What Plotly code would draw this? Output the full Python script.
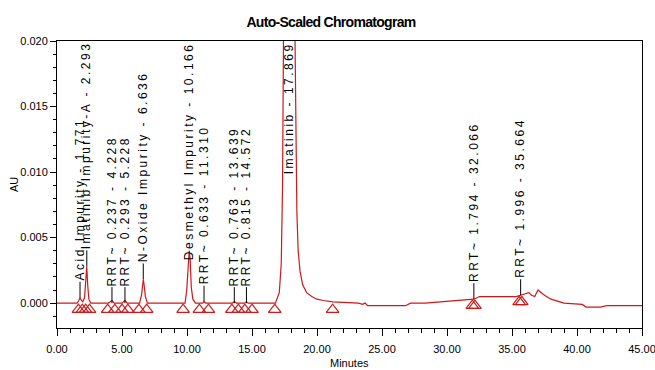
import plotly.graph_objects as go

# ---------------- data ----------------
# chromatogram trace (minutes, AU)
time_min = [0.0, 1.55, 1.68, 1.77, 1.88, 1.98, 2.12, 2.22, 2.29, 2.36, 2.45, 2.6,
            3.95, 4.1, 4.23, 4.4, 5.0, 5.12, 5.23, 5.4,
            6.35, 6.5, 6.58, 6.64, 6.7, 6.8, 6.95,
            9.85, 9.98, 10.08, 10.17, 10.25, 10.33, 10.45, 10.65,
            11.2, 11.31, 11.45, 13.5, 13.64, 13.8, 14.45, 14.57, 14.7,
            16.8, 17.1, 17.25, 17.35, 17.42, 17.87, 18.3, 18.38, 18.45, 18.55,
            18.7, 18.9, 19.2, 19.6, 20.0, 20.5, 21.2,
            23.2, 23.5, 23.7, 23.9, 26.8, 27.2, 28.3, 29.8, 31.3, 32.07,
            32.5, 35.3, 35.66, 36.0, 36.3, 36.5, 36.75, 37.0, 37.5, 38.0, 38.6,
            39.0, 40.4, 40.7, 41.8, 42.3, 45.0]
au = [0.0, 0.0, 0.0002, 0.0004, 0.0002, 0.0001, 0.0004, 0.0015, 0.0028, 0.0014, 0.0003, 0.0,
      0.0, 0.0001, 0.0002, 0.0, 0.0, 0.0001, 0.0002, 0.0,
      0.0, 0.0006, 0.0013, 0.0018, 0.0014, 0.0005, 0.0,
      0.0, 0.0010, 0.0030, 0.0040, 0.0032, 0.0012, 0.0003, 0.0,
      0.0, 0.0001, 0.0, 0.0, 0.0001, 0.0, 0.0, 0.0001, 0.0,
      0.0, 0.0008, 0.0030, 0.0090, 0.0210, 0.0900, 0.0210, 0.0110, 0.0070, 0.0040,
      0.0024, 0.0014, 0.0008, 0.0005, 0.0003, 0.0002, 0.0001,
      0.0, -0.0001, 0.0, -0.0002, -0.0002, 0.0, 0.0, 0.0001, 0.0002, 0.0003,
      0.0005, 0.0005, 0.0006, 0.0007, 0.0008, 0.0006, 0.0005, 0.0010, 0.0006, 0.0003, 0.0001,
      0.0, -0.0001, -0.0003, -0.0003, -0.0002, -0.0002]

# peak start / end markers
tri_time = [1.65, 1.95, 2.2, 2.5, 3.9, 4.45, 5.0, 5.45, 6.3, 6.9, 9.7, 10.95, 11.65,
            13.45, 13.95, 14.45, 15.0, 16.75, 21.2, 31.95, 32.15, 35.55, 35.75]
tri_au = [-0.0005, -0.0005, -0.0005, -0.0005, -0.0005, -0.0005, -0.0005, -0.0005,
          -0.0005, -0.0005, -0.0005, -0.0005, -0.0005, -0.0005, -0.0005, -0.0005,
          -0.0005, -0.0005, -0.0005, -0.0002, -0.0002, 0.0001, 0.0001]

# labelled peaks
peak_name = ["Acid Impurity", "Imatinib Impurity-A", "RRT~ 0.237", "RRT~ 0.293",
             "N-Oxide Impurity", "Desmethyl Impurity", "RRT~ 0.633", "RRT~ 0.763",
             "RRT~ 0.815", "Imatinib", "RRT~ 1.794", "RRT~ 1.996"]
peak_rt = [1.771, 2.293, 4.228, 5.228, 6.636, 10.166, 11.310, 13.639, 14.572,
           17.869, 32.066, 35.664]
peak_apex = [0.0004, 0.0028, 0.0, 0.0, 0.0018, 0.0040, 0.0001, 0.0, 0.0,
             0.0900, 0.0003, 0.0006]

# ---------------- layout ----------------
W, H = 655, 370
ML, MR, MT, MB = 57, 13, 41, 42
XR = [0, 45]
YR = [-0.0019, 0.020]
RED = "#d01818"
FONT = "Liberation Sans, Arial, sans-serif"

plot_w = W - ML - MR
plot_h = H - MT - MB
px_per_unit = plot_h / (YR[1] - YR[0])
gap_px = 16
gap = gap_px / px_per_unit
char_px = 7.6

fig = go.Figure()

fig.add_trace(go.Scatter(
    x=time_min, y=au, mode="lines",
    line=dict(color=RED, width=1.2), hoverinfo="skip", showlegend=False))

fig.add_trace(go.Scatter(
    x=tri_time, y=tri_au, mode="markers",
    marker=dict(symbol="triangle-up-open", size=11, color=RED, line=dict(width=1.2, color=RED)),
    hoverinfo="skip", showlegend=False))

lead_x, lead_y = [], []
for name, rt, apex in zip(peak_name, peak_rt, peak_apex):
    text = f"{name} - {rt:.3f}"
    apex_px = (YR[1] - apex) * px_per_unit
    est_len = len(text) * char_px
    pinned = apex_px - gap_px - est_len < 2
    span = f'<span style="letter-spacing:2.5px">{text}</span>'
    if pinned:
        fig.add_annotation(x=rt, y=YR[1], xref="x", yref="y", text=span,
                           textangle=-90, showarrow=False, xanchor="center",
                           yanchor="top", yshift=0, borderpad=0,
                           font=dict(family=FONT, size=12, color="black"))
    else:
        fig.add_annotation(x=rt, y=apex, xref="x", yref="y", text=span,
                           textangle=-90, showarrow=False, xanchor="center",
                           yanchor="bottom", yshift=gap_px, borderpad=0,
                           font=dict(family=FONT, size=12, color="black"))
        lead_x += [rt, rt, None]
        lead_y += [apex, apex + gap, None]

fig.add_trace(go.Scatter(
    x=lead_x, y=lead_y, mode="lines", line=dict(color="black", width=1),
    hoverinfo="skip", showlegend=False))

fig.update_layout(
    width=W, height=H,
    margin=dict(l=ML, r=MR, t=MT, b=MB, autoexpand=False),
    paper_bgcolor="white", plot_bgcolor="white",
    title=dict(text='<b><span style="letter-spacing:-0.7px">Auto-Scaled Chromatogram</span></b>',
               x=331 / W, xanchor="center", xref="container",
               y=1 - 22 / H, yanchor="middle", yref="container",
               font=dict(family=FONT, size=14, color="black")),
    xaxis=dict(range=XR, tick0=0, dtick=5, tickformat=".2f", ticks="outside",
               ticklen=7, tickcolor="black", showline=True, linecolor="black",
               linewidth=1, mirror=True, showgrid=False, zeroline=False,
               ticklabeloverflow="allow", ticklabelstandoff=4,
               minor=dict(dtick=1, ticks="outside", ticklen=4, tickcolor="black"),
               tickfont=dict(family=FONT, size=11, color="black")),
    yaxis=dict(range=YR, tick0=0, dtick=0.005, tickformat=".3f", ticks="outside",
               ticklen=6, tickcolor="black", showline=True, linecolor="black",
               linewidth=1, mirror=True, showgrid=False, zeroline=False,
               ticklabeloverflow="allow",
               minor=dict(dtick=0.001, ticks="outside", ticklen=3, tickcolor="black"),
               tickfont=dict(family=FONT, size=11, color="black")),
)

fig.add_annotation(x=0.5, y=(H - MB - 363) / plot_h, xref="paper", yref="paper",
                   text="Minutes", showarrow=False, xanchor="center", yanchor="middle",
                   font=dict(family=FONT, size=11, color="black"))
fig.add_annotation(x=(14 - ML) / plot_w, y=(H - MB - 185) / plot_h, xref="paper", yref="paper",
                   text="AU", textangle=-90, showarrow=False, xanchor="center",
                   yanchor="middle", font=dict(family=FONT, size=11, color="black"))

fig.write_html("out.html", config={"displayModeBar": False},
               post_script="document.body.style.margin='0px';")
